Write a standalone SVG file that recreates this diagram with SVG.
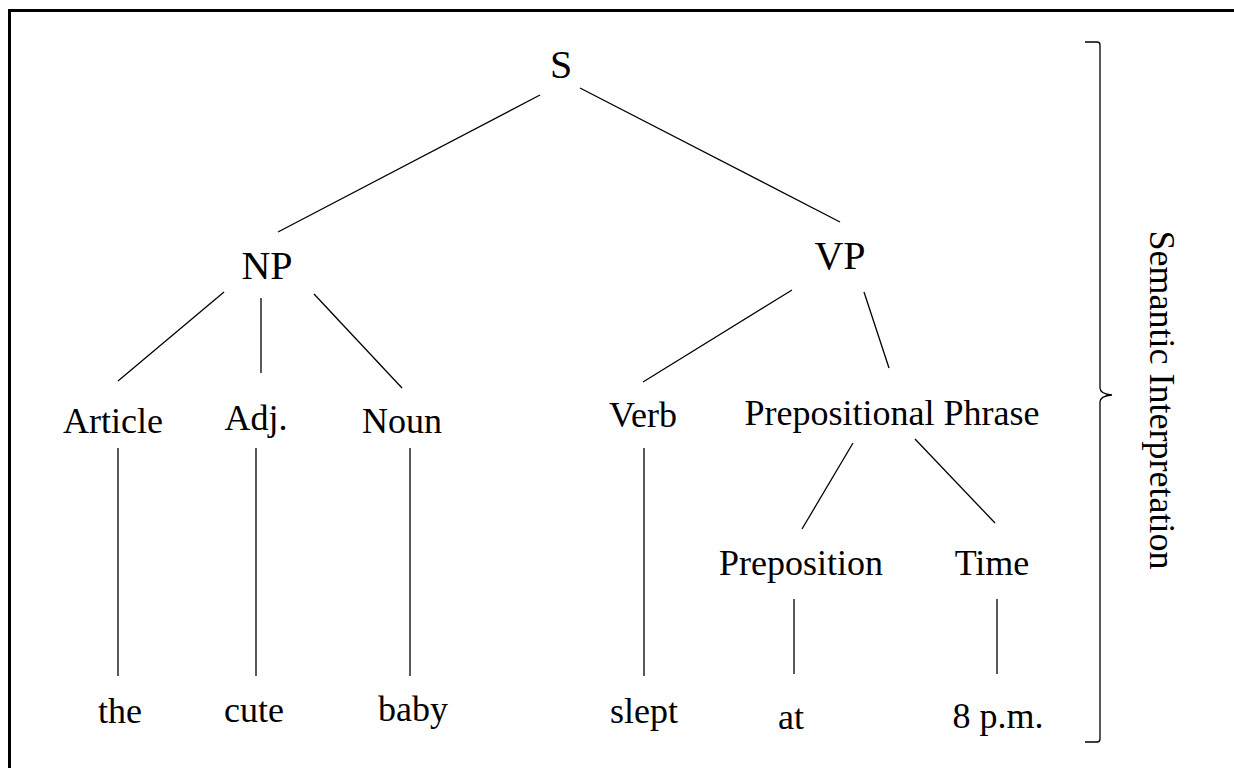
<svg xmlns="http://www.w3.org/2000/svg" width="1234" height="768" viewBox="0 0 1234 768">
<style>
text{font-family:"Liberation Serif","Times New Roman",serif;fill:#000;text-anchor:middle}
.big{font-size:40px}
.mid{font-size:36px}
.edge line{stroke:#000;stroke-width:1.3}
</style>
<rect x="0" y="0" width="1234" height="768" fill="#fff"/>
<rect x="9.5" y="10.5" width="1300" height="900" fill="none" stroke="#000" stroke-width="3"/>
<g id="connectors" class="edge">
<line x1="540" y1="95" x2="278" y2="232"/>
<line x1="580" y1="88" x2="840" y2="222"/>
<line x1="224" y1="292" x2="118" y2="381"/>
<line x1="261" y1="298" x2="261" y2="373"/>
<line x1="314" y1="294" x2="402" y2="388"/>
<line x1="792" y1="290" x2="643" y2="382"/>
<line x1="864" y1="292" x2="889" y2="368"/>
<line x1="853" y1="443" x2="802" y2="529"/>
<line x1="915" y1="439" x2="995" y2="523"/>
<line x1="118" y1="448" x2="118" y2="676"/>
<line x1="256" y1="448" x2="256" y2="676"/>
<line x1="410" y1="448" x2="410" y2="676"/>
<line x1="644" y1="448" x2="644" y2="676"/>
<line x1="794" y1="599" x2="794" y2="674"/>
<line x1="997" y1="599" x2="997" y2="674"/>
</g>
<g id="n-S"><text class="big" x="561" y="78">S</text></g>
<g id="n-NP"><text class="big" x="267" y="279">NP</text></g>
<g id="n-VP"><text class="big" x="840" y="269">VP</text></g>
<g id="n-Article"><text class="mid" x="113" y="433">Article</text></g>
<g id="n-Adj"><text class="mid" x="256" y="430">Adj.</text></g>
<g id="n-Noun"><text class="mid" x="402" y="433">Noun</text></g>
<g id="n-Verb"><text class="mid" x="643" y="427">Verb</text></g>
<g id="n-PP"><text class="mid" x="892" y="425">Prepositional Phrase</text></g>
<g id="n-Preposition"><text class="mid" x="801" y="575">Preposition</text></g>
<g id="n-Time"><text class="mid" x="992" y="575">Time</text></g>
<g id="n-the"><text class="mid" x="120" y="723">the</text></g>
<g id="n-cute"><text class="mid" x="254" y="722">cute</text></g>
<g id="n-baby"><text class="mid" x="413" y="721">baby</text></g>
<g id="n-slept"><text class="mid" x="644" y="723">slept</text></g>
<g id="n-at"><text class="mid" x="791" y="729">at</text></g>
<g id="n-8pm"><text class="mid" x="998" y="728">8 p.m.</text></g>
<g id="brace">
<path d="M1085,42 L1097,42 Q1100,42 1100,45 L1100,388 Q1100,394 1112,395 Q1100,396 1100,402 L1100,739 Q1100,742 1097,742 L1085,742" fill="none" stroke="#000" stroke-width="1.3"/>
<text class="mid" transform="translate(1150,400) rotate(90)">Semantic Interpretation</text>
</g>
</svg>
